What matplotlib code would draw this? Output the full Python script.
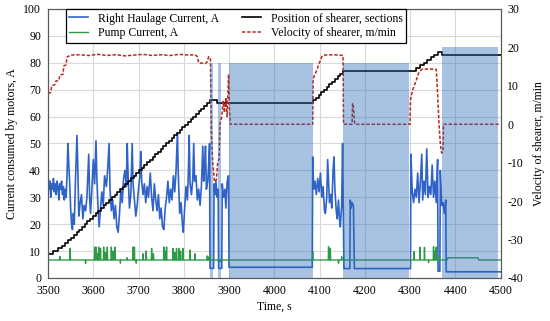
import matplotlib
matplotlib.use("Agg")
import matplotlib.pyplot as plt
from matplotlib.patches import Rectangle

plt.rcParams["font.family"] = "Liberation Serif"
plt.rcParams["font.size"] = 8.5
plt.rcParams["axes.unicode_minus"] = False

# Right haulage current, A (left axis)
cur_t = [3500, 3502, 3504, 3506, 3508, 3510, 3512, 3514, 3516, 3518, 3520, 3522, 3524, 3526, 3528,
         3530, 3532, 3534, 3536, 3538, 3540, 3542, 3544, 3546, 3548, 3550, 3552, 3554, 3556, 3558,
         3561, 3564, 3566, 3568, 3571, 3574, 3577, 3580, 3583, 3586, 3590, 3592, 3594, 3597, 3600,
         3603, 3606, 3608, 3610, 3613, 3616, 3619, 3622, 3625, 3629, 3632, 3635, 3637, 3640, 3643,
         3646, 3649, 3652, 3655, 3658, 3661, 3664, 3667, 3670, 3673, 3675, 3677, 3680, 3683, 3686,
         3688, 3691, 3694, 3697, 3700, 3703, 3705, 3707, 3710, 3713, 3716, 3719, 3722, 3726, 3729,
         3732, 3735, 3738, 3741, 3744, 3747, 3750, 3753, 3756, 3759, 3762, 3765, 3768, 3771, 3774,
         3777, 3780, 3783, 3786, 3788, 3791, 3794, 3797, 3799, 3802, 3805, 3808, 3810, 3812, 3814,
         3817, 3820, 3822, 3824, 3827, 3830, 3833, 3836, 3839, 3842, 3844, 3846, 3848, 3850, 3853,
         3855, 3857, 3858, 3866, 3867, 3869, 3871, 3874, 3876, 3877, 3884, 3885, 3888, 3891, 3893,
         3896, 3899, 3900, 4084, 4085, 4087, 4090, 4093, 4096, 4099, 4102, 4105, 4108, 4111, 4113,
         4116, 4118, 4120, 4122, 4125, 4127, 4130, 4132, 4134, 4137, 4139, 4142, 4144, 4146, 4149,
         4151, 4154, 4167, 4168, 4170, 4172, 4175, 4177, 4301, 4302, 4305, 4308, 4311, 4314, 4317,
         4320, 4323, 4326, 4328, 4331, 4334, 4337, 4340, 4343, 4346, 4349, 4352, 4355, 4358, 4361,
         4362, 4366, 4367, 4370, 4373, 4376, 4379, 4380, 4500]
cur_v = [38, 33, 36, 30, 35, 33, 37, 32, 35, 31, 36, 34, 29, 35, 33,
         36, 31, 34, 29, 33, 30, 38, 50, 42, 35, 26, 20, 18, 24, 20,
         38, 53, 40, 23, 28, 31, 22, 27, 25, 30, 46, 30, 24, 33, 44,
         35, 51, 37, 28, 19, 26, 32, 27, 38, 34, 41, 50, 33, 25, 29,
         22, 27, 19, 17, 24, 33, 28, 37, 40, 34, 50, 38, 26, 31, 50,
         35, 29, 23, 27, 33, 38, 47, 36, 31, 35, 28, 34, 30, 39, 30,
         25, 35, 29, 25, 31, 22, 26, 19, 18, 26, 30, 36, 28, 33, 29,
         38, 32, 40, 54, 38, 24, 28, 20, 17, 26, 34, 29, 38, 53, 35,
         31, 37, 50, 36, 38, 29, 33, 27, 34, 49, 36, 40, 49, 33, 36,
         42, 50, 3.6, 3.6, 35, 31, 36, 30, 33, 3.6, 3.6, 35, 30, 33, 26,
         36, 38, 4, 4, 45, 33, 36, 31, 37, 32, 39, 30, 34, 25, 24,
         30, 44, 36, 28, 31, 26, 40, 45, 33, 25, 22, 29, 22, 19, 27,
         50, 3.5, 3.5, 29, 26, 28, 27, 3.5, 3.5, 46, 32, 28, 33, 30, 39,
         28, 36, 46, 29, 36, 31, 48, 30, 34, 31, 42, 30, 36, 28, 44,
         2.5, 2.5, 40, 27, 28, 24, 29, 2.3, 2.3]

# Pump current, A (left axis): baseline knots and short spikes
pump_base_t = [3500, 4382, 4384, 4450, 4452, 4500]
pump_base_v = [6.7, 6.7, 7.5, 7.5, 6.7, 6.7]
pump_spike_t = [3526, 3549, 3583, 3603, 3606, 3609, 3612, 3616, 3623, 3627, 3631, 3640, 3644, 3648,
                3660, 3675, 3688, 3691, 3695, 3710, 3717, 3729, 3733, 3756, 3759, 3762, 3776, 3780,
                3784, 3789, 3793, 3798, 3814, 3825, 3852, 3855, 3858, 3880,
                4085, 4120, 4124, 4142, 4149, 4309, 4322, 4332, 4341, 4352, 4355, 4358, 4365]
pump_spike_v = [8, 11, 5.4, 11.5, 11.5, 9, 11.5, 11, 11.5, 9.5, 11.5, 11.5, 10, 11.5,
                5.5, 7.5, 11.5, 11.5, 5.5, 9, 10, 11, 9, 11.5, 10, 11.5, 11, 9.5,
                11, 11, 10, 11, 10.4, 9, 8.2, 7.8, 8.4, 6,
                9.8, 11.6, 11, 5.5, 7.9, 9.8, 11.4, 11.4, 5.8, 11.6, 10, 11.5, 8]

# Position of shearer, sections (left axis, stepped)
pos_t = [3500, 3511, 3521, 3530, 3538, 3545, 3551, 3557, 3563, 3569, 3575, 3581, 3587, 3593, 3599,
         3605, 3611, 3617, 3623, 3629, 3635, 3641, 3647, 3653, 3659, 3665, 3671, 3677, 3683, 3689,
         3695, 3701, 3707, 3713, 3719, 3725, 3731, 3737, 3743, 3749, 3755, 3761, 3767, 3773, 3779,
         3785, 3791, 3797, 3803, 3809, 3815, 3821, 3827, 3833, 3839, 3845, 3851, 3857, 3874,
         4086, 4092, 4098, 4104, 4110, 4116, 4122, 4128, 4134, 4140, 4146, 4152,
         4314, 4322, 4330, 4338, 4346, 4354, 4362, 4371, 4500]
pos_v = [9, 10, 11, 12, 13, 14, 15, 16, 17, 18, 19, 20, 21, 22, 23,
         24, 25, 26, 27, 28, 29, 30, 31, 32, 33, 34, 35, 36, 37, 38,
         39, 40, 41, 42, 43, 44, 45, 46, 47, 48, 49, 50, 51, 52, 53,
         54, 55, 56, 57, 58, 59, 60, 61, 62, 63, 64, 65, 66, 65,
         66, 67, 68, 69, 70, 71, 72, 73, 74, 75, 76, 77,
         78, 79, 80, 81, 82, 83, 84, 83, 83]

# Velocity of shearer, m/min (right axis)
vel_t = [3500, 3506, 3508, 3515, 3517, 3524, 3526, 3533, 3535, 3540, 3542, 3547, 3549,
         3570, 3590, 3610, 3630, 3650, 3670, 3690, 3710, 3730, 3750, 3770, 3790, 3810,
         3825, 3830, 3833, 3848, 3852, 3855, 3859, 3861, 3864, 3868, 3872, 3875, 3878, 3880,
         3884, 3887, 3890, 3893, 3896, 3899, 3901, 3903, 4085, 4086, 4088, 4094, 4098, 4105,
         4109, 4130, 4152, 4153, 4172, 4173, 4175, 4177, 4178, 4300, 4301, 4306, 4312, 4319,
         4326, 4340, 4358, 4361, 4364, 4367, 4370, 4373, 4374, 4500]
vel_v = [8, 8.3, 10, 10.3, 11.2, 11.4, 12.8, 13, 15.2, 15.5, 17.5, 17.8, 18.0,
         18.1, 17.9, 18.2, 17.9, 18.1, 17.8, 18.0, 18.2, 17.9, 18.1, 17.9, 18.2, 18.0,
         18.1, 17.6, 16.0, 15.8, 16.3, 17.6, 17.0, -2, -10, -15, -14.5, -10, -9, 0,
         2, 6, 3, 7, 2, 13, 4, 0, 0, 11.5, 12.5, 14.1, 15.4, 17.6,
         18.0, 18.1, 17.9, 0, 0, 5.5, 4.5, 1, 0, 0, 6.3, 9, 10.8, 13.3,
         14.3, 14.4, 14.3, 8, 0.3, -5, -7.5, -7, 0, 0]

# Shaded stop intervals: start, end, top (left-axis units)
stop_start = [3857, 3876, 3900, 4153, 4370]
stop_end = [3864, 3883, 4085, 4297, 4494]
stop_top = [80, 80, 80, 80, 86]

pump = sorted(list(zip(pump_base_t, pump_base_v)) +
              [(t - 0.7, 6.7) for t in pump_spike_t] +
              [(t, v) for t, v in zip(pump_spike_t, pump_spike_v)] +
              [(t + 0.7, 6.7) for t in pump_spike_t])
pump_t = [p[0] for p in pump]
pump_v = [p[1] for p in pump]

fig, ax = plt.subplots(figsize=(5.5, 3.21), dpi=100)
fig.subplots_adjust(left=0.0873, right=0.91, bottom=0.134, top=0.972)
ax2 = ax.twinx()

l1, = ax.plot(cur_t, cur_v, color="#2f63c8", lw=1.2, label="Right Haulage Current, A", zorder=2)
l2, = ax.plot(pump_t, pump_v, color="#2e9a48", lw=1.0, label="Pump Current, A", zorder=2)
l3, = ax.plot(pos_t, pos_v, color="black", lw=1.2, drawstyle="steps-post",
              label="Position of shearer, sections", zorder=3)
l4, = ax2.plot(vel_t, vel_v, color="#b5291e", lw=1.1, ls=(0, (2.2, 1.2)),
               label="Velocity of shearer, m/min", zorder=2)

for s, e, top in zip(stop_start, stop_end, stop_top):
    ax2.add_patch(Rectangle((s, 0), e - s, top, transform=ax.transData,
                            facecolor="#2669b6", alpha=0.4, edgecolor="none", zorder=4))

ax.set_xlim(3500, 4500)
ax.set_ylim(0, 100)
ax2.set_ylim(-40, 30)
ax.set_xticks(range(3500, 4501, 100))
ax.set_yticks(range(0, 101, 10))
ax2.set_yticks(range(-40, 31, 10))
ax.grid(True, color="#d9d9d9", lw=0.8)
ax.set_axisbelow(True)
for a in (ax, ax2):
    a.tick_params(length=0, pad=5, labelsize=8.5)
    for sp in a.spines.values():
        sp.set_color("#595959")

ax.set_xlabel("Time, s", fontsize=8.5, labelpad=3)
ax.set_ylabel("Current consumed by motors, A", fontsize=8.5)
ax2.set_ylabel("Velocity of shearer, m/min", fontsize=8.5, labelpad=7)

leg = ax2.legend(handles=[l1, l2, l3, l4], ncol=2, loc="upper left",
                 bbox_to_anchor=(0.039, 1.0), borderaxespad=0, fancybox=False,
                 edgecolor="black", framealpha=1, fontsize=8.5, handlelength=1.6,
                 columnspacing=2.0, labelspacing=0.25, borderpad=0.3)
leg.get_frame().set_linewidth(0.9)
leg.set_zorder(10)

fig.savefig("out.png", dpi=100)
